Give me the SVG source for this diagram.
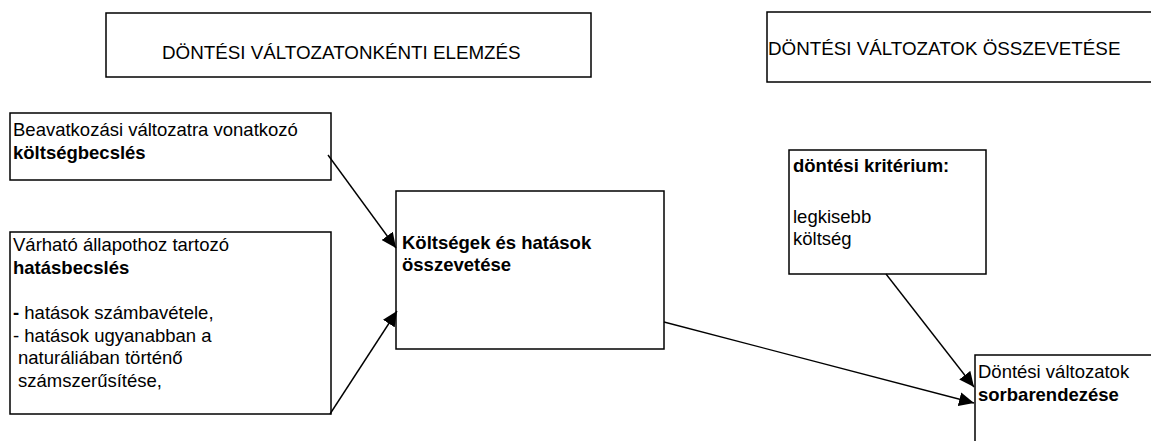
<svg xmlns="http://www.w3.org/2000/svg" width="1151" height="441" viewBox="0 0 1151 441">
  <style>
    .box { fill: #ffffff; stroke: #000000; stroke-width: 1.5; }
    .t { font-family: "Liberation Sans", Arial, sans-serif; font-size: 18.5px; fill: #000000; }
    .h { font-size: 18.8px; }
    .b { font-weight: bold; }
    .conn { stroke: #000000; stroke-width: 1.4; fill: none; marker-end: url(#arrow); }
  </style>
  <defs>
    <marker id="arrow" markerUnits="userSpaceOnUse" markerWidth="16" markerHeight="14" refX="15" refY="7" orient="auto">
      <path d="M0,0 L15,7 L0,14 z" fill="#000000"/>
    </marker>
  </defs>
  <rect width="1151" height="441" fill="#ffffff"/>

  <g id="node-title-left">
    <rect class="box" x="106" y="13" width="485" height="64"/>
    <text class="t h" x="162" y="59">DÖNTÉSI VÁLTOZATONKÉNTI ELEMZÉS</text>
  </g>
  <g id="node-title-right">
    <rect class="box" x="767" y="12" width="400" height="70"/>
    <text class="t h" x="768" y="55">DÖNTÉSI VÁLTOZATOK ÖSSZEVETÉSE</text>
  </g>
  <g id="node-koltsegbecsles">
    <rect class="box" x="10" y="113" width="321" height="67"/>
    <text class="t" x="13" y="136">Beavatkozási változatra vonatkozó</text>
    <text class="t b" x="13" y="159">költségbecslés</text>
  </g>
  <g id="node-hatasbecsles">
    <rect class="box" x="10" y="232" width="321" height="182"/>
    <text class="t" x="13" y="251">Várható állapothoz tartozó</text>
    <text class="t b" x="13" y="274">hatásbecslés</text>
    <text class="t" x="13" y="319"><tspan class="b">-</tspan> hatások számbavétele,</text>
    <text class="t" x="13" y="342">- hatások ugyanabban a</text>
    <text class="t" x="18" y="364">naturáliában történő</text>
    <text class="t" x="18" y="387">számszerűsítése,</text>
  </g>
  <g id="node-osszevetes">
    <rect class="box" x="396" y="191" width="268" height="158"/>
    <text class="t b" x="402" y="249">Költségek és hatások</text>
    <text class="t b" x="402" y="271">összevetése</text>
  </g>
  <g id="node-kriterium">
    <rect class="box" x="789" y="150" width="197" height="124"/>
    <text class="t b" x="793" y="172">döntési kritérium:</text>
    <text class="t" x="793" y="223">legkisebb</text>
    <text class="t" x="793" y="245">költség</text>
  </g>
  <g id="node-sorbarendezes">
    <rect class="box" x="975" y="355" width="200" height="100"/>
    <text class="t" x="978" y="378">Döntési változatok</text>
    <text class="t b" x="978" y="401">sorbarendezése</text>
  </g>

  <g id="connectors">
    <line class="conn" x1="328" y1="155" x2="396" y2="248"/>
    <line class="conn" x1="330" y1="414" x2="397" y2="311"/>
    <line class="conn" x1="664" y1="322" x2="974" y2="403"/>
    <line class="conn" x1="886" y1="274" x2="974" y2="387"/>
  </g>
</svg>
